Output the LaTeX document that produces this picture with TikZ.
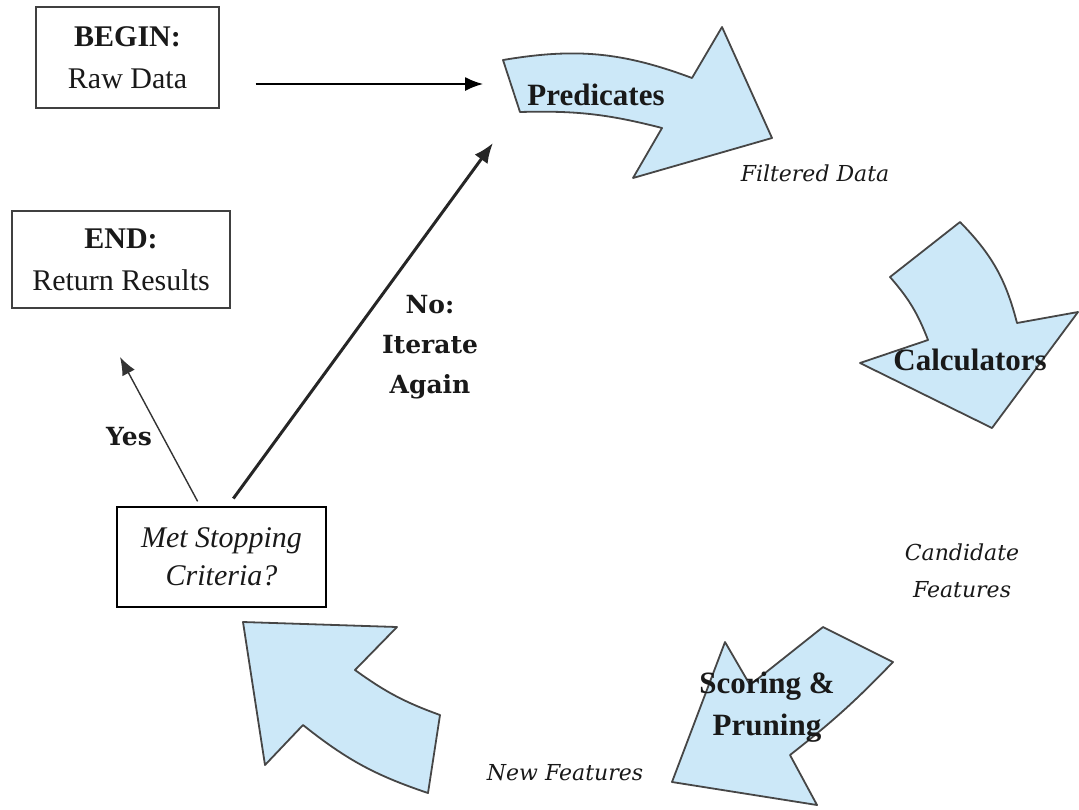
\documentclass[tikz,border=0pt]{standalone}
\usepackage{fontspec}
\setmainfont{Liberation Serif}
\newfontfamily\answerfont{DejaVu Serif}
\usetikzlibrary{arrows.meta,positioning,calc}

\definecolor{arrowBlue}{RGB}{204,232,248}
\definecolor{arrowEdge}{RGB}{70,70,70}

\begin{document}
\begin{tikzpicture}[x=0.5pt, y=-0.5pt,
		every node/.style={align=center, inner sep=0pt, text=black!90},
		termBox/.style={
				draw=black!75, line width=0.6pt,
				font=\fontsize{15}{21}\selectfont
			},
		stopBox/.style={
				draw=black, line width=1.2pt,
				minimum width=104.5pt, minimum height=50pt,
				font=\fontsize{15}{19}\selectfont\itshape
			},
		cycleArrow/.style={fill=arrowBlue, draw=arrowEdge, line width=0.9pt, line join=round},
		stepName/.style={font=\fontsize{15.5}{21}\selectfont\bfseries},
		dataLabel/.style={font=\answerfont\fontsize{11}{18.5}\selectfont\itshape},
		answerLabel/.style={font=\answerfont\fontsize{12.5}{20}\selectfont\bfseries},
		flowArrow/.style={-{Latex[length=9pt,width=7pt]}, line width=0.8pt},
		yesArrow/.style={-{Latex[length=9pt,width=7pt]}, line width=0.7pt, draw=black!80},
		noArrow/.style={-{Latex[length=10pt,width=8pt]}, line width=1.5pt, draw=black!85}
	]

	\useasboundingbox (0,0) rectangle (1079,809);

	% Cycle arrows
	\draw[cycleArrow] (503,60) to[bend left=15] (692,78) -- (722,27) -- (772,138)
		-- (633,178) -- (662,128) to[bend right=8] (520,112) -- cycle;
	\draw[cycleArrow] (890,277) -- (960,222) to[bend left=15] (1017,323) -- (1078,312)
		-- (992,428) -- (860,363) -- (928,340) to[bend right=10] (890,277) -- cycle;
	\draw[cycleArrow] (823,627) -- (893,662) to[bend left=4] (790,755) -- (817,805)
		-- (672,782) -- (725,642) -- (750,685) -- cycle;
	\draw[cycleArrow] (243,622) -- (397,627) -- (355,670) to[bend right=8] (440,715)
		-- (428,793) to[bend left=10] (303,725) -- (265,765) -- cycle;

	% Step names
	\node[stepName] (pred) at (596,95) {Predicates};
	\node[stepName] (calc) at (970,360) {Calculators};
	\node[stepName] (score) at (767,707) {Scoring \&\\Pruning};

	% Data between steps
	\node[dataLabel] (filtered) at (815,173) {Filtered Data};
	\node[dataLabel] (candidate) at (962,571) {Candidate\\Features};
	\node[dataLabel] (newfeat) at (565,773) {New Features};

	% Boxes
	\node[termBox, minimum width=91.5pt, minimum height=50.5pt] (begin) at (127.5,57.5) {\textbf{BEGIN:}\\Raw Data};
	\node[termBox, minimum width=109pt, minimum height=48.5pt] (end) at (121,259.5) {\textbf{END:}\\Return Results};
	\node[stopBox] (stop) at (221.5,557) {Met Stopping\\Criteria?};

	% Connectors
	\coordinate (predIn) at (483,84);
	\coordinate (predBack) at (493,143);
	\coordinate (endIn) at (120,357);

	\draw[flowArrow, shorten <=18pt] (begin.east |- predIn) -- (predIn);
	\draw[yesArrow, shorten <=2.5pt] ([xshift=-10.75pt]stop.north) -- (endIn);
	\draw[noArrow, shorten <=4.5pt] ([xshift=3.25pt]stop.north) -- (predBack);

	\node[answerLabel] (yes) at (129,437) {Yes};
	\node[answerLabel] (again) at (430,347) {No:\\Iterate\\Again};
\end{tikzpicture}
\end{document}
